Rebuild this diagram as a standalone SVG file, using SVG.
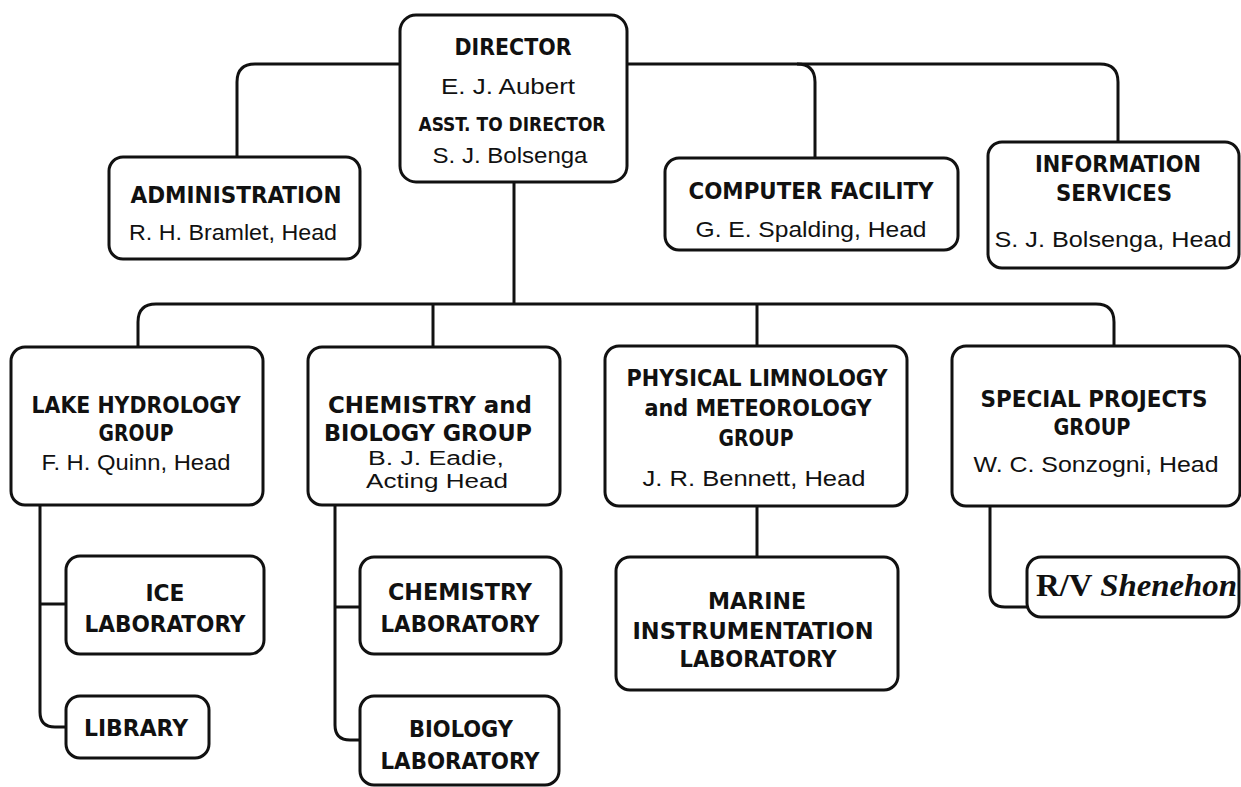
<svg xmlns="http://www.w3.org/2000/svg" width="1241" height="787" viewBox="0 0 1241 787">
<style>
.box{fill:#fff;stroke:#111;stroke-width:3}
.ln{fill:none;stroke:#111;stroke-width:3}
.h{font-family:"Liberation Sans Narrow","DejaVu Sans Condensed","Liberation Sans",sans-serif;font-weight:bold;font-size:23px;fill:#111;text-anchor:middle}
.n{font-family:"Liberation Sans",Arial,sans-serif;font-size:22px;fill:#111;text-anchor:middle}
.s{font-size:20px}
.t{font-size:20px}
</style>
<rect width="1241" height="787" fill="#fff"/>
<g id="connectors">
<path class="ln" d="M400 64 H255 Q237 64 237 82 V157"/>
<path class="ln" d="M627 64 H1100 Q1118 64 1118 82 V142"/>
<path class="ln" d="M797 64 Q815 64 815 82 V158"/>
<path class="ln" d="M514 182 V304"/>
<path class="ln" d="M138 347 V322 Q138 304 156 304 H1096 Q1114 304 1114 322 V346"/>
<path class="ln" d="M433 304 V347"/>
<path class="ln" d="M757 304 V346"/>
<path class="ln" d="M40 505 V712 Q40 727 55 727 H66"/>
<path class="ln" d="M40 604 H66"/>
<path class="ln" d="M335 505 V725 Q335 740 350 740 H360"/>
<path class="ln" d="M335 607 H360"/>
<path class="ln" d="M757 506 V557"/>
<path class="ln" d="M990 506 V592 Q990 607 1005 607 H1027"/>
</g>
<g id="director">
<rect class="box" x="400" y="15" width="227" height="167" rx="16"/>
<text class="h" x="513" y="55" textLength="117" lengthAdjust="spacingAndGlyphs">DIRECTOR</text>
<text class="n" x="508" y="94" textLength="134" lengthAdjust="spacingAndGlyphs">E. J. Aubert</text>
<text class="h s" x="512" y="131" textLength="187" lengthAdjust="spacingAndGlyphs">ASST. TO DIRECTOR</text>
<text class="n" x="510" y="163" textLength="155" lengthAdjust="spacingAndGlyphs">S. J. Bolsenga</text>
</g>
<g id="administration">
<rect class="box" x="109" y="157" width="251" height="102" rx="14"/>
<text class="h" x="236" y="203" textLength="211" lengthAdjust="spacingAndGlyphs">ADMINISTRATION</text>
<text class="n" x="233" y="240" textLength="208" lengthAdjust="spacingAndGlyphs">R. H. Bramlet, Head</text>
</g>
<g id="computer">
<rect class="box" x="665" y="158" width="293" height="92" rx="14"/>
<text class="h" x="811" y="199" textLength="245" lengthAdjust="spacingAndGlyphs">COMPUTER FACILITY</text>
<text class="n" x="811" y="237" textLength="231" lengthAdjust="spacingAndGlyphs">G. E. Spalding, Head</text>
</g>
<g id="information">
<rect class="box" x="988" y="142" width="251" height="126" rx="14"/>
<text class="h" x="1118" y="172" textLength="166" lengthAdjust="spacingAndGlyphs">INFORMATION</text>
<text class="h" x="1114" y="201" textLength="116" lengthAdjust="spacingAndGlyphs">SERVICES</text>
<text class="n" x="1113" y="247" textLength="237" lengthAdjust="spacingAndGlyphs">S. J. Bolsenga, Head</text>
</g>
<g id="lake">
<rect class="box" x="11" y="347" width="252" height="158" rx="14"/>
<text class="h" x="136" y="413" textLength="209" lengthAdjust="spacingAndGlyphs">LAKE HYDROLOGY</text>
<text class="h" x="136" y="441" textLength="75" lengthAdjust="spacingAndGlyphs">GROUP</text>
<text class="n" x="136" y="470" textLength="189" lengthAdjust="spacingAndGlyphs">F. H. Quinn, Head</text>
</g>
<g id="chembio">
<rect class="box" x="308" y="347" width="252" height="158" rx="14"/>
<text class="h" x="430" y="413" textLength="204" lengthAdjust="spacingAndGlyphs">CHEMISTRY and</text>
<text class="h" x="428" y="441" textLength="208" lengthAdjust="spacingAndGlyphs">BIOLOGY GROUP</text>
<text class="n t" x="436" y="465" textLength="136" lengthAdjust="spacingAndGlyphs">B. J. Eadie,</text>
<text class="n t" x="437" y="488" textLength="142" lengthAdjust="spacingAndGlyphs">Acting Head</text>
</g>
<g id="physical">
<rect class="box" x="605" y="346" width="302" height="160" rx="14"/>
<text class="h" x="757" y="386" textLength="261" lengthAdjust="spacingAndGlyphs">PHYSICAL LIMNOLOGY</text>
<text class="h" x="758" y="416" textLength="227" lengthAdjust="spacingAndGlyphs">and METEOROLOGY</text>
<text class="h" x="756" y="446" textLength="75" lengthAdjust="spacingAndGlyphs">GROUP</text>
<text class="n" x="754" y="486" textLength="223" lengthAdjust="spacingAndGlyphs">J. R. Bennett, Head</text>
</g>
<g id="special">
<rect class="box" x="952" y="346" width="288" height="160" rx="14"/>
<text class="h" x="1094" y="407" textLength="227" lengthAdjust="spacingAndGlyphs">SPECIAL PROJECTS</text>
<text class="h" x="1092" y="435" textLength="77" lengthAdjust="spacingAndGlyphs">GROUP</text>
<text class="n" x="1096" y="472" textLength="245" lengthAdjust="spacingAndGlyphs">W. C. Sonzogni, Head</text>
</g>
<g id="ice">
<rect class="box" x="66" y="556" width="198" height="98" rx="14"/>
<text class="h" x="165" y="601" textLength="39" lengthAdjust="spacingAndGlyphs">ICE</text>
<text class="h" x="165" y="632" textLength="161" lengthAdjust="spacingAndGlyphs">LABORATORY</text>
</g>
<g id="library">
<rect class="box" x="66" y="696" width="143" height="62" rx="14"/>
<text class="h" x="136" y="736" textLength="104" lengthAdjust="spacingAndGlyphs">LIBRARY</text>
</g>
<g id="chemlab">
<rect class="box" x="360" y="557" width="201" height="97" rx="14"/>
<text class="h" x="460" y="600" textLength="144" lengthAdjust="spacingAndGlyphs">CHEMISTRY</text>
<text class="h" x="460" y="632" textLength="159" lengthAdjust="spacingAndGlyphs">LABORATORY</text>
</g>
<g id="biolab">
<rect class="box" x="360" y="696" width="199" height="89" rx="14"/>
<text class="h" x="461" y="737" textLength="104" lengthAdjust="spacingAndGlyphs">BIOLOGY</text>
<text class="h" x="460" y="769" textLength="159" lengthAdjust="spacingAndGlyphs">LABORATORY</text>
</g>
<g id="marine">
<rect class="box" x="616" y="557" width="282" height="133" rx="14"/>
<text class="h" x="757" y="609" textLength="98" lengthAdjust="spacingAndGlyphs">MARINE</text>
<text class="h" x="753" y="639" textLength="241" lengthAdjust="spacingAndGlyphs">INSTRUMENTATION</text>
<text class="h" x="758" y="667" textLength="157" lengthAdjust="spacingAndGlyphs">LABORATORY</text>
</g>
<g id="shenehon">
<rect class="box" x="1027" y="557" width="212" height="60" rx="14"/>
<text x="1036" y="596" textLength="201" lengthAdjust="spacingAndGlyphs" style="font-family:'Liberation Serif','Times New Roman',serif;font-size:32px;font-weight:bold;fill:#111">R/V <tspan font-style="italic">Shenehon</tspan></text>
</g>
</svg>
